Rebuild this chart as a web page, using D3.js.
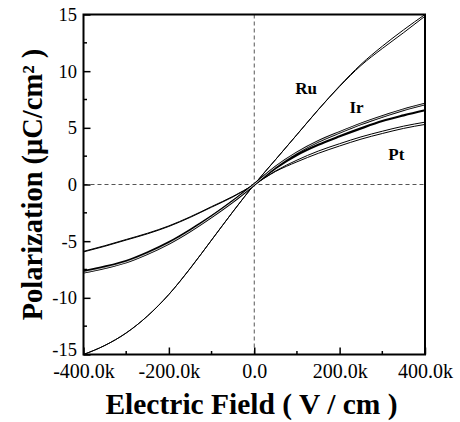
<!DOCTYPE html>
<html>
<head>
<meta charset="utf-8">
<script src="https://cdn.jsdelivr.net/npm/d3@7"></script>
<style>
  body { margin: 0; background: #fff; }
  svg text { font-family: "Liberation Serif", "Times New Roman", serif; fill: #000; }
</style>
</head>
<body>
<svg id="chart" width="460" height="422"></svg>
<script>
// electric field, kV/cm
var fieldK = [-400, -350, -300, -250, -200, -150, -100, -50, 0, 50, 100, 150, 200, 250, 300, 350, 400];

// polarization, uC/cm2 (two sweep branches per electrode)
var ruUp    = [-15.0, -14.2, -13.1, -11.6, -9.7, -7.4, -4.9, -2.4, 0, 2.2, 4.4, 6.6, 8.7, 10.6, 12.2, 13.65, 15.0];
var ruDown  = [-15.0, -14.2, -13.1, -11.6, -9.7, -7.4, -4.9, -2.4, 0, 2.2, 4.4, 6.6, 8.65, 10.5, 12.0, 13.4, 14.85];
var irThick = [-7.65, -7.25, -6.75, -6.0, -5.1, -4.0, -2.8, -1.45, 0, 1.45, 2.6, 3.5, 4.25, 4.95, 5.6, 6.1, 6.55];
var irThin  = [-7.75, -7.35, -6.85, -6.1, -5.2, -4.1, -2.85, -1.5, 0, 1.55, 2.8, 3.8, 4.6, 5.35, 6.0, 6.6, 7.1];
var ptLow   = [-5.95, -5.45, -4.9, -4.35, -3.7, -2.9, -2.0, -1.1, 0, 1.15, 2.0, 2.75, 3.4, 4.0, 4.5, 4.95, 5.3];
var ptHigh  = [-5.9, -5.4, -4.85, -4.3, -3.65, -2.85, -1.95, -1.05, 0, 1.2, 2.15, 2.95, 3.6, 4.2, 4.7, 5.15, 5.5];

var xTicks = [-400, -200, 0, 200, 400];
var xMinor = [-300, -100, 100, 300];
var yTicks = [-15, -10, -5, 0, 5, 10, 15];
var yMinor = [-12.5, -7.5, -2.5, 2.5, 7.5, 12.5];

// curve labels, in data units
var labels = [
    { name: "Ru", e: 96, p: 8.0 },
    { name: "Ir", e: 223, p: 6.35 },
    { name: "Pt", e: 314, p: 2.2 }
];

var margin = { top: 14.5, right: 35, bottom: 67.5, left: 83.5 },
    width = 460 - margin.left - margin.right,
    height = 422 - margin.top - margin.bottom;

var svg = d3.select("#chart");
var g = svg.append("g")
    .attr("transform", "translate(" + margin.left + "," + margin.top + ")");

var x = d3.scaleLinear().domain([-400, 400]).range([0, width]);
var y = d3.scaleLinear().domain([-15, 15]).range([height, 0]);

// plain hyphen minus, as in the original figure
var hyphen = s => s.replace("\u2212", "-");

// zero lines
g.append("line")
    .attr("x1", 0).attr("x2", width)
    .attr("y1", y(0)).attr("y2", y(0))
    .attr("stroke", "#555").attr("stroke-width", 1).attr("stroke-dasharray", "4,3");
g.append("line")
    .attr("x1", x(0)).attr("x2", x(0))
    .attr("y1", 0).attr("y2", height)
    .attr("stroke", "#555").attr("stroke-width", 1).attr("stroke-dasharray", "4,3");

var line = function (vals) {
    return d3.line()
        .x((d, i) => x(fieldK[i]))
        .y(d => y(d))
        .curve(d3.curveMonotoneX)(vals);
};

var curves = g.append("g").attr("fill", "none");

// thin branches
[ruUp, ruDown, ptLow, ptHigh].forEach(function (vals) {
    curves.append("path")
        .attr("d", line(vals))
        .attr("stroke", "#000")
        .attr("stroke-width", 1);
});

// Ir: one heavy branch and one hollow-looking branch
curves.append("path")
    .attr("d", line(irThick))
    .attr("stroke", "#000")
    .attr("stroke-width", 2.2);
curves.append("path")
    .attr("d", line(irThin))
    .attr("stroke", "#000")
    .attr("stroke-width", 2.6);
curves.append("path")
    .attr("d", line(irThin))
    .attr("stroke", "#fff")
    .attr("stroke-width", 0.8);

// frame
g.append("rect")
    .attr("x", 0).attr("y", 0)
    .attr("width", width).attr("height", height)
    .attr("fill", "none")
    .attr("stroke", "#000")
    .attr("stroke-width", 2);

// x axis, ticks pointing inward
var xAxis = g.append("g")
    .attr("transform", "translate(0," + height + ")")
    .call(d3.axisBottom(x)
        .tickValues(xTicks)
        .tickSizeInner(-7)
        .tickSizeOuter(0)
        .tickPadding(9)
        .tickFormat(d => d === 0 ? "0.0" : hyphen(d3.format(".1f")(d)) + "k"));
xAxis.select(".domain").remove();
xAxis.selectAll("line").attr("stroke-width", 1.5);
xAxis.selectAll("text").attr("font-size", 20).attr("font-family", "Liberation Serif");
xAxis.selectAll(".minor").data(xMinor).enter().append("line")
    .attr("class", "minor")
    .attr("x1", d => x(d)).attr("x2", d => x(d))
    .attr("y1", 0).attr("y2", -3.5)
    .attr("stroke", "#000").attr("stroke-width", 1.5);

// y axis
var yAxis = g.append("g")
    .call(d3.axisLeft(y)
        .tickValues(yTicks)
        .tickSizeInner(-7)
        .tickSizeOuter(0)
        .tickPadding(6.5)
        .tickFormat(d => hyphen(d3.format("d")(d))));
yAxis.select(".domain").remove();
yAxis.selectAll("line").attr("stroke-width", 1.5);
yAxis.selectAll("text")
    .attr("font-size", 18.5)
    .attr("font-family", "Liberation Serif")
    // bottom label sits a little higher, clear of the -400.0k label
    .attr("y", d => d === -15 ? -5 : 0);
yAxis.selectAll(".minor").data(yMinor).enter().append("line")
    .attr("class", "minor")
    .attr("x1", 0).attr("x2", 3.5)
    .attr("y1", d => y(d)).attr("y2", d => y(d))
    .attr("stroke", "#000").attr("stroke-width", 1.5);

// curve labels
g.selectAll(".curve-label")
    .data(labels)
    .enter().append("text")
    .attr("class", "curve-label")
    .attr("x", d => x(d.e))
    .attr("y", d => y(d.p))
    .attr("font-size", 17)
    .attr("font-weight", "bold")
    .text(d => d.name);

// axis titles
svg.append("text")
    .attr("x", 251.5)
    .attr("y", 414)
    .attr("text-anchor", "middle")
    .attr("font-size", 29.5)
    .attr("font-weight", "bold")
    .text("Electric Field ( V / cm )");

svg.append("text")
    .attr("transform", "translate(42," + (margin.top + y(0)) + ") rotate(-90)")
    .attr("text-anchor", "middle")
    .attr("font-size", 28.5)
    .attr("font-weight", "bold")
    .text("Polarization (\u03BCC/cm\u00B2 )");
</script>
</body>
</html>
